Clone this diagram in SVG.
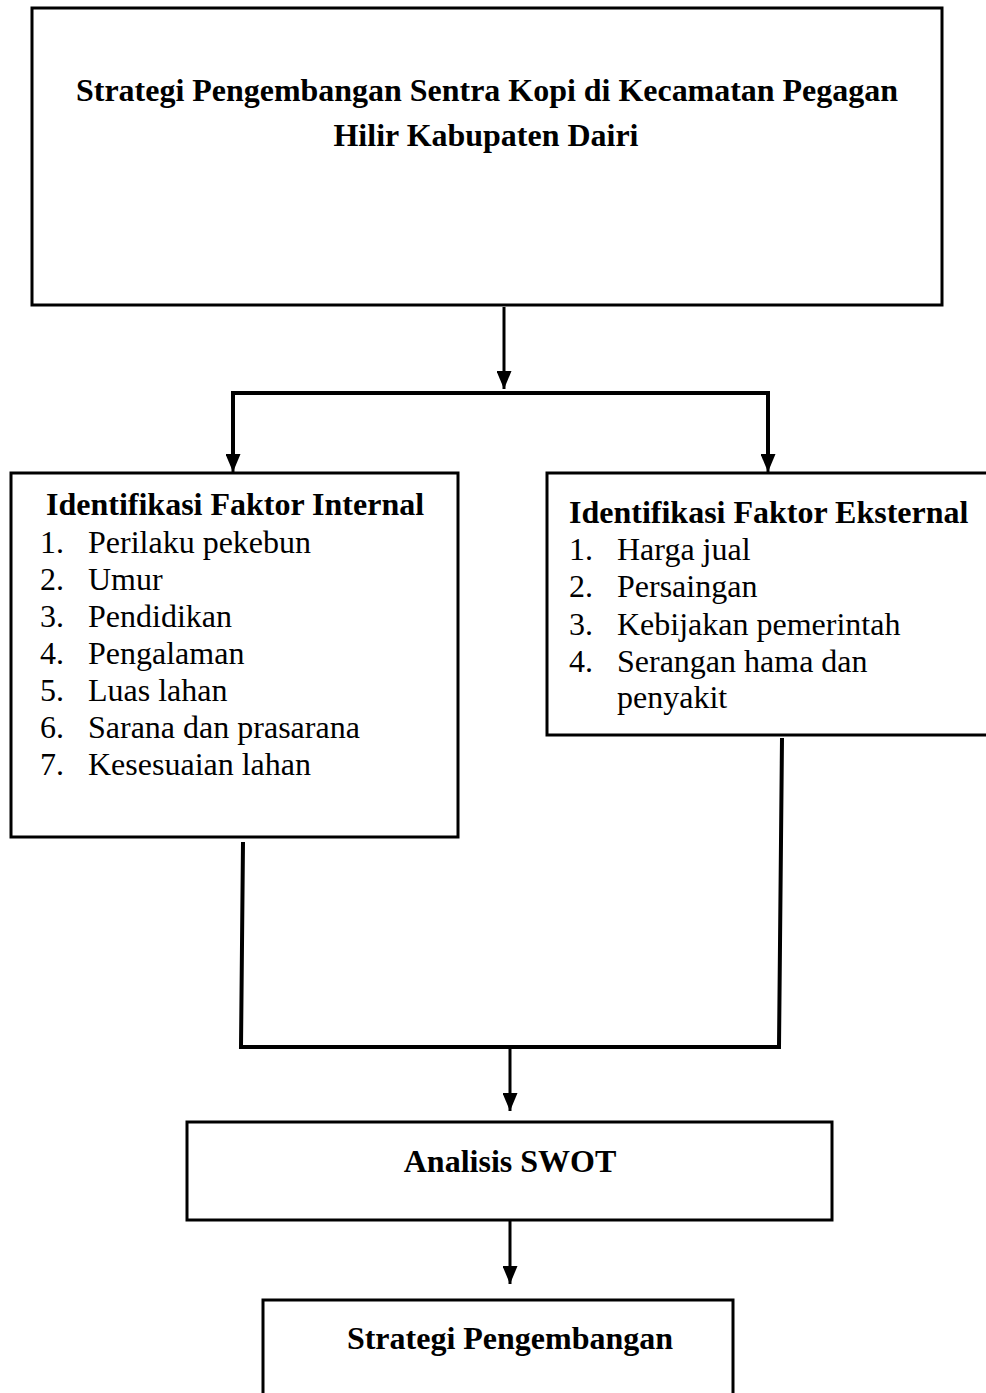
<svg xmlns="http://www.w3.org/2000/svg" width="986" height="1393" viewBox="0 0 986 1393">
<style>
.box{fill:#fff;stroke:#000;stroke-width:3}
.ln{fill:none;stroke:#000;stroke-width:3}
.thick{fill:none;stroke:#000;stroke-width:4}
.b{font-family:"Liberation Serif","Times New Roman",serif;font-weight:bold;font-size:32px;fill:#000}
.t{font-family:"Liberation Serif","Times New Roman",serif;font-weight:bold;font-size:31px;fill:#000}
.r{font-family:"Liberation Serif","Times New Roman",serif;font-size:32px;fill:#000}
</style>
<defs>
<marker id="arr" markerUnits="userSpaceOnUse" markerWidth="18" markerHeight="15" refX="18" refY="7.5" orient="auto" viewBox="0 0 18 15">
<path d="M0,0 L18,7.5 L0,15 Z" fill="#000"/>
</marker>
</defs>
<g id="connectors">
<line class="ln" x1="504" y1="307" x2="504" y2="389" marker-end="url(#arr)"/>
<polyline class="thick" points="233,458 233,393 768,393 768,458"/>
<line class="ln" x1="233" y1="393" x2="233" y2="472" marker-end="url(#arr)"/>
<line class="ln" x1="768" y1="393" x2="768" y2="472" marker-end="url(#arr)"/>
<polyline class="thick" points="243,842 241,1047 779,1047 782,738"/>
<line class="ln" x1="510" y1="1047" x2="510" y2="1111" marker-end="url(#arr)"/>
<line class="ln" x1="510" y1="1221" x2="510" y2="1284" marker-end="url(#arr)"/>
</g>
<g id="node-title">
<rect class="box" x="32" y="8" width="910" height="297"/>
<text class="t" x="487" y="101" text-anchor="middle" textLength="822" lengthAdjust="spacingAndGlyphs">Strategi Pengembangan Sentra Kopi di Kecamatan Pegagan</text>
<text class="t" x="486" y="146" text-anchor="middle" textLength="305" lengthAdjust="spacingAndGlyphs">Hilir Kabupaten Dairi</text>
</g>
<g id="node-internal">
<rect class="box" x="11" y="473" width="447" height="364"/>
<text class="b" x="46" y="515">Identifikasi Faktor Internal</text>
<text class="r" x="40" y="553">1.</text><text class="r" x="88" y="553">Perilaku pekebun</text>
<text class="r" x="40" y="590">2.</text><text class="r" x="88" y="590">Umur</text>
<text class="r" x="40" y="627">3.</text><text class="r" x="88" y="627">Pendidikan</text>
<text class="r" x="40" y="664">4.</text><text class="r" x="88" y="664">Pengalaman</text>
<text class="r" x="40" y="701">5.</text><text class="r" x="88" y="701">Luas lahan</text>
<text class="r" x="40" y="738">6.</text><text class="r" x="88" y="738">Sarana dan prasarana</text>
<text class="r" x="40" y="775">7.</text><text class="r" x="88" y="775">Kesesuaian lahan</text>
</g>
<g id="node-external">
<rect class="box" x="547" y="473" width="445" height="262"/>
<text class="b" x="569" y="523">Identifikasi Faktor Eksternal</text>
<text class="r" x="569" y="560">1.</text><text class="r" x="617" y="560">Harga jual</text>
<text class="r" x="569" y="597">2.</text><text class="r" x="617" y="597">Persaingan</text>
<text class="r" x="569" y="635">3.</text><text class="r" x="617" y="635">Kebijakan pemerintah</text>
<text class="r" x="569" y="672">4.</text><text class="r" x="617" y="672">Serangan hama dan</text>
<text class="r" x="617" y="708">penyakit</text>
</g>
<g id="node-swot">
<rect class="box" x="187" y="1122" width="645" height="98"/>
<text class="b" x="510" y="1172" text-anchor="middle">Analisis SWOT</text>
</g>
<g id="node-strategi">
<rect class="box" x="263" y="1300" width="470" height="100"/>
<text class="b" x="510" y="1349" text-anchor="middle">Strategi Pengembangan</text>
</g>
</svg>
